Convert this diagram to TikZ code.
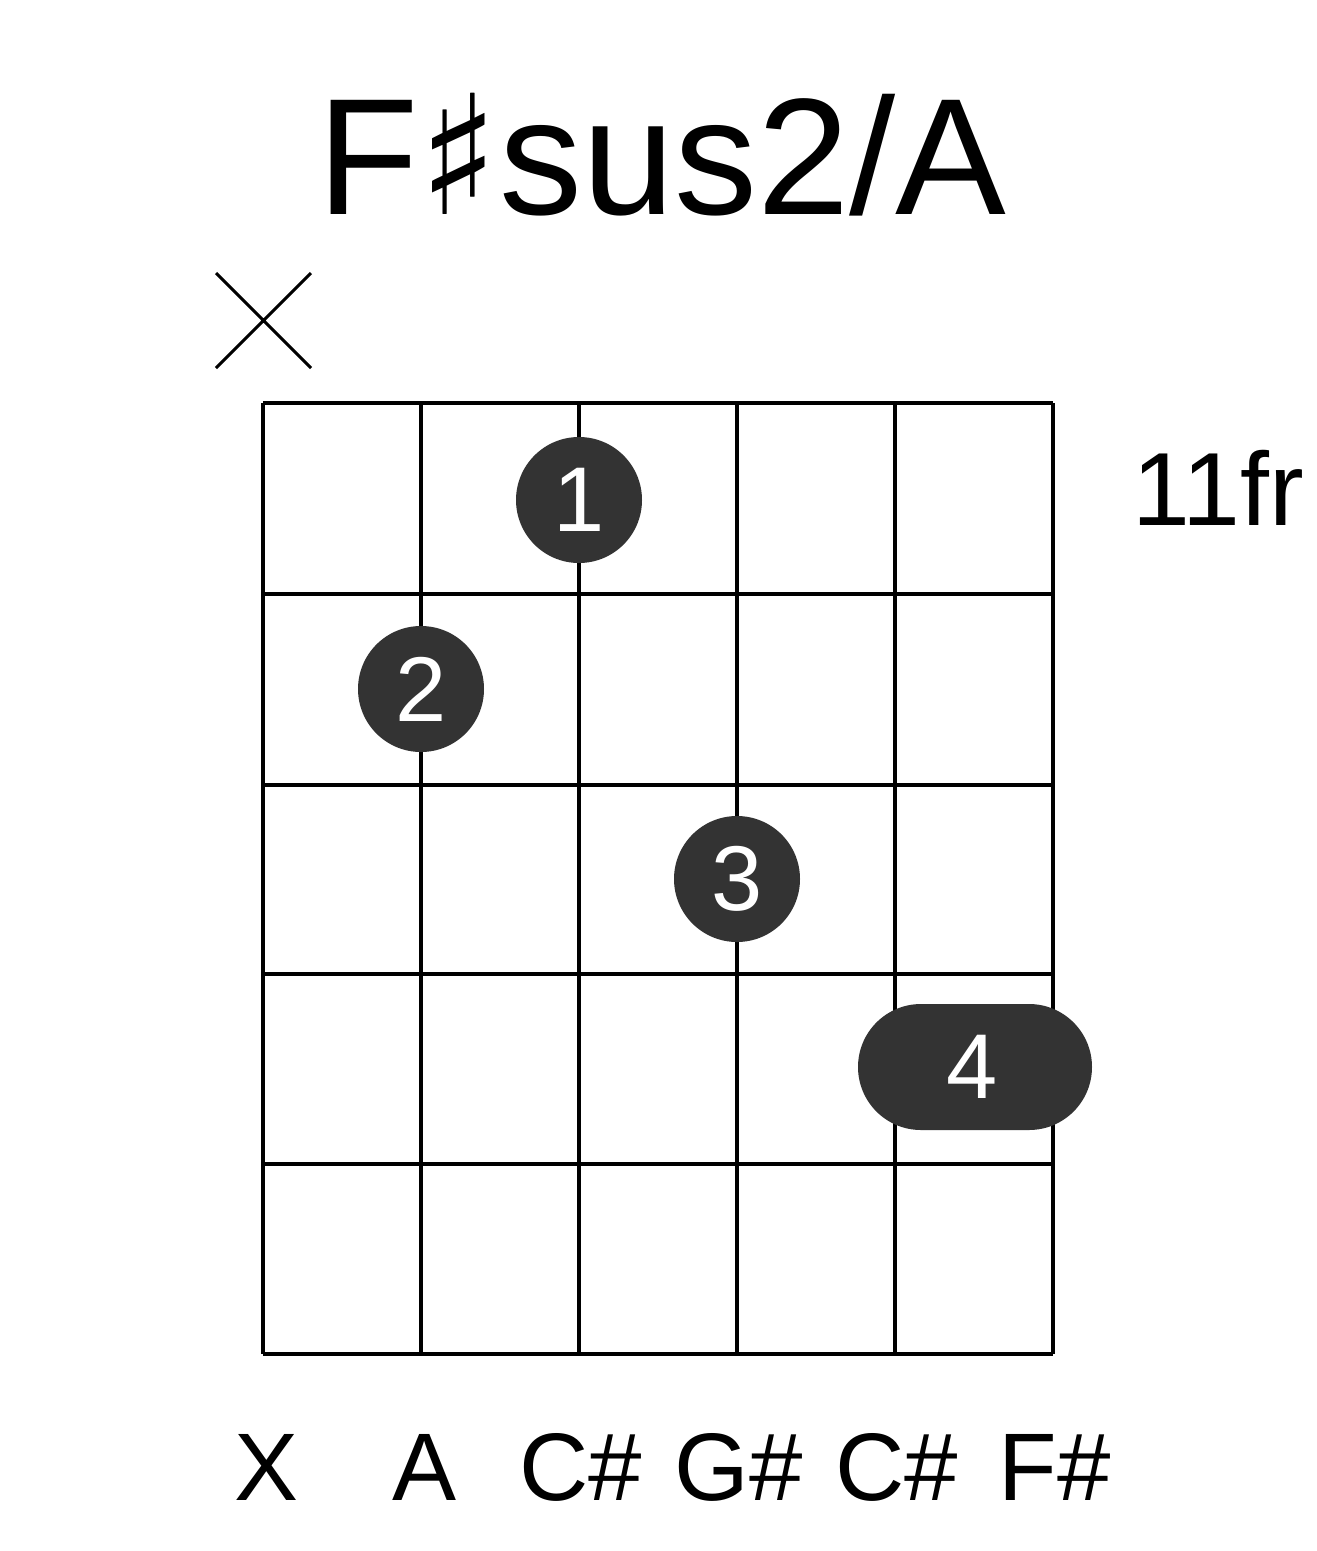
\documentclass[tikz,border=0pt]{standalone}
\usepackage{fontspec}
\setmainfont{Liberation Sans}
\newfontfamily\symf{DejaVu Sans}
\definecolor{dot}{HTML}{333333}
\begin{document}
\begin{tikzpicture}[x=1pt,y=-1pt,
  grid/.style={line width=4pt,black},
  fing/.style={circle,fill=dot,minimum size=126pt,inner sep=0pt,text=white,font=\fontsize{92}{92}\selectfont},
  lab/.style={font=\fontsize{96}{96}\selectfont}]
\useasboundingbox (0,0) rectangle (1317,1551);
\fill[white] (0,0) rectangle (1317,1551);
\node[font=\fontsize{166}{166}\selectfont] (title) at (662,155) {F{\symf ♯}sus2/A};
\coordinate (xa) at (216,273); \coordinate (xb) at (311,368);
\coordinate (xc) at (216,368); \coordinate (xd) at (311,273);
\draw[line width=3pt] (xa) -- (xb) (xc) -- (xd);
\foreach \x in {263,421,579,737,895,1053} \draw[grid] (\x,403) -- (\x,1354);
\foreach \y in {403,594,785,974,1164,1354} \draw[grid] (263,\y) -- (1053,\y);
\node[fing] (f1) at (579,500) {1};
\node[fing] (f2) at (421,689) {2};
\node[fing] (f3) at (737,879) {3};
\fill[dot,rounded corners=63pt] (858,1004) rectangle (1092,1130);
\node[text=white,font=\fontsize{92}{92}\selectfont] (f4) at (972,1067) {4};
\node[font=\fontsize{104}{104}\selectfont] (fr) at (1218,488) {11fr};
\node[lab] (n1) at (267,1467) {X};
\node[lab] (n2) at (425,1467) {A};
\node[lab] (n3) at (581,1467) {C\#};
\node[lab] (n4) at (739,1467) {G\#};
\node[lab] (n5) at (897,1467) {C\#};
\node[lab] (n6) at (1055,1467) {F\#};
\end{tikzpicture}
\end{document}
